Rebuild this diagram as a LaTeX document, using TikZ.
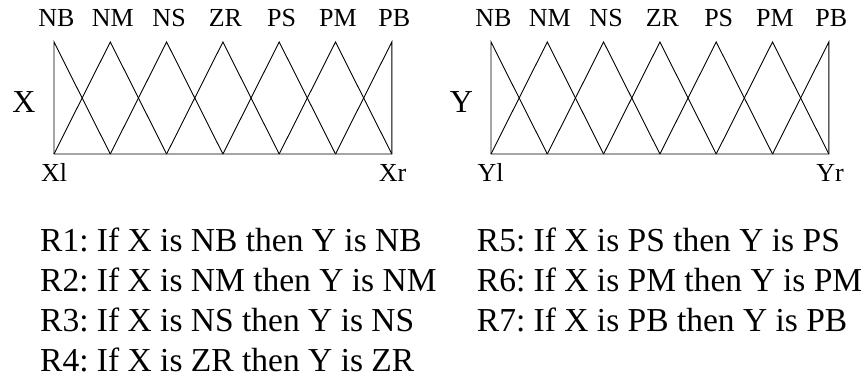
\documentclass[tikz,border=0pt]{standalone}
\usepackage{fontspec}
\setmainfont{Liberation Serif}
\usepackage{tikz}
\usetikzlibrary{positioning, calc}
\frenchspacing

\begin{document}
\begin{tikzpicture}[x=1pt, y=-1pt,
  mf/.style={line width=0.9pt, line join=miter},
  setname/.style={font=\fontsize{26}{31}\selectfont, anchor=base, inner sep=0pt},
  axname/.style={font=\fontsize{32}{38}\selectfont, anchor=base, inner sep=0pt},
  rangename/.style={font=\fontsize{26}{31}\selectfont, anchor=base, inner sep=0pt},
  rulename/.style={font=\fontsize{33.5}{40}\selectfont, anchor=base west, inner sep=0pt}]
\useasboundingbox (0,0) rectangle (866,385);
% peaks and feet of the membership functions
\foreach \ax/\ox in {X/54, Y/491} {
  \foreach \i in {0,...,6} {
    \coordinate (\ax p\i) at (\ox+\i*56.3, 42);
    \coordinate (\ax b\i) at (\ox+\i*56.3, 154);
  }
}
\foreach \ax in {X,Y} {
  \draw[mf] (\ax b1) -- (\ax p0) -- (\ax b0) -- (\ax b6) -- (\ax p6) -- (\ax b5);
  \foreach \i [evaluate=\i as \l using int(\i-1), evaluate=\i as \r using int(\i+1)] in {1,...,5}
    \draw[mf] (\ax b\l) -- (\ax p\i) -- (\ax b\r);
  \foreach \s [count=\k from 0] in {NB,NM,NS,ZR,PS,PM,PB}
    \node[setname] (\ax\s) at ([shift={(2.5,-15.5)}]\ax p\k) {\s};
}
% axis names and range ends
\node[axname] (xlab) at (24,112) {X};
\node[axname] (ylab) at (461.5,112) {Y};
\node[rangename] (xl) at (54,181.7) {Xl};
\node[rangename] (xr) at (392.5,181.7) {Xr};
\node[rangename] (yl) at (490.5,181.7) {Yl};
\node[rangename] (yr) at (830,181.7) {Yr};
% rule base
\foreach \s [count=\k] in {NB,NM,NS,ZR}
  \node[rulename] (r\k) at (40, 211.7+40*\k) {R\k: If X is {\s} then Y is {\s}};
\foreach \s [count=\k from 5] in {PS,PM,PB}
  \node[rulename] (r\k) at (476.7, 211.7+40*\k-160) {R\k: If X is {\s} then Y is {\s}};
\end{tikzpicture}
\end{document}
